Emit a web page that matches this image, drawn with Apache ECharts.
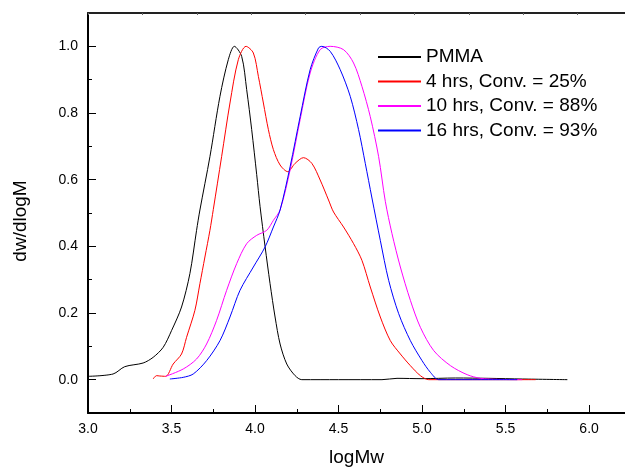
<!DOCTYPE html>
<html>
<head>
<meta charset="utf-8">
<title>GPC traces</title>
<script src="https://cdn.jsdelivr.net/npm/echarts@6/dist/echarts.min.js"></script>
<style>
  html, body { margin: 0; padding: 0; background: #ffffff; }
  #chart { width: 625px; height: 468px; }
</style>
</head>
<body>
<div id="chart"></div>
<script>
// Molecular weight distributions (dw/dlogM vs logMw)
const seriesNames = ['PMMA', '4 hrs, Conv. = 25%', '10 hrs, Conv. = 88%', '16 hrs, Conv. = 93%'];
const seriesColors = ['#000000', '#ff0000', '#ff00ff', '#0000ff'];

const pmmaLogM = [3.00, 3.15, 3.22, 3.33, 3.39, 3.45, 3.50, 3.56, 3.61, 3.65, 3.67, 3.73, 3.79, 3.84, 3.876,
  3.92, 3.95, 3.98, 4.01, 4.03, 4.06, 4.09, 4.12, 4.15, 4.19, 4.24, 4.28, 4.50, 4.76, 4.85, 5.00, 5.20, 5.40, 5.60, 5.87];
const pmmaW = [0.010, 0.017, 0.039, 0.050, 0.067, 0.097, 0.147, 0.218, 0.318, 0.448, 0.509, 0.669, 0.850, 0.960, 1.000,
  0.970, 0.870, 0.750, 0.615, 0.520, 0.400, 0.288, 0.188, 0.107, 0.047, 0.012, 0.000, 0.000, 0.000, 0.004, 0.003, 0.005, 0.004, 0.002, 0.000];

const hrs4LogM = [3.39, 3.41, 3.43, 3.465, 3.51, 3.56, 3.59, 3.64, 3.67, 3.70, 3.73, 3.75, 3.80, 3.85, 3.90, 3.946,
  3.99, 4.02, 4.05, 4.08, 4.11, 4.15, 4.196, 4.24, 4.29, 4.34, 4.39, 4.44, 4.47, 4.53, 4.59, 4.64, 4.69, 4.75,
  4.81, 4.87, 4.93, 4.99, 5.04, 5.30, 5.68];
const hrs4W = [0.002, 0.012, 0.011, 0.010, 0.047, 0.077, 0.127, 0.208, 0.288, 0.368, 0.448, 0.510, 0.669, 0.830, 0.960, 1.000,
  0.980, 0.910, 0.830, 0.750, 0.690, 0.644, 0.624, 0.649, 0.666, 0.649, 0.599, 0.539, 0.503, 0.458, 0.408, 0.358, 0.278, 0.188,
  0.117, 0.077, 0.042, 0.012, 0.000, 0.000, 0.000];

const hrs10LogM = [3.465, 3.57, 3.65, 3.71, 3.77, 3.83, 3.89, 3.95, 4.01, 4.07, 4.11, 4.15, 4.21, 4.27, 4.33, 4.39, 4.45,
  4.53, 4.59, 4.64, 4.69, 4.74, 4.78, 4.82, 4.87, 4.93, 4.99, 5.07, 5.17, 5.27, 5.35, 5.45, 5.60];
const hrs10W = [0.010, 0.032, 0.062, 0.107, 0.178, 0.268, 0.348, 0.408, 0.433, 0.448, 0.478, 0.509, 0.629, 0.780, 0.920, 0.990, 1.000,
  0.990, 0.950, 0.880, 0.789, 0.669, 0.535, 0.438, 0.338, 0.238, 0.157, 0.087, 0.042, 0.015, 0.004, 0.001, 0.000];

const hrs16LogM = [3.49, 3.57, 3.63, 3.71, 3.79, 3.85, 3.91, 3.99, 4.06, 4.11, 4.15, 4.21, 4.27, 4.33, 4.38, 4.40, 4.45,
  4.51, 4.57, 4.62, 4.66, 4.70, 4.75, 4.80, 4.86, 4.93, 5.00, 5.05, 5.10, 5.30, 5.57];
const hrs16W = [0.002, 0.007, 0.017, 0.057, 0.117, 0.188, 0.268, 0.338, 0.398, 0.458, 0.509, 0.639, 0.789, 0.930, 0.995, 1.000, 0.985,
  0.930, 0.850, 0.750, 0.649, 0.545, 0.418, 0.298, 0.198, 0.117, 0.057, 0.022, 0.000, 0.000, 0.000];

const yTickValues = [0.0, 0.2, 0.4, 0.6, 0.8, 1.0];
const yMinorTickValues = [0.1, 0.3, 0.5, 0.7, 0.9];

const FONT = '"Liberation Sans", Arial, sans-serif';

function pairs(xs, ys) {
  return xs.map((x, i) => [x, ys[i]]);
}

const curves = [
  pairs(pmmaLogM, pmmaW),
  pairs(hrs4LogM, hrs4W),
  pairs(hrs10LogM, hrs10W),
  pairs(hrs16LogM, hrs16W)
];

const chart = echarts.init(document.getElementById('chart'), null, { renderer: 'canvas' });

const option = {
  animation: false,
  backgroundColor: '#ffffff',
  textStyle: { fontFamily: FONT },
  grid: { left: 88, right: 0, top: 13, bottom: 55, containLabel: false, outerBoundsMode: 'none' },
  legend: {
    orient: 'vertical',
    left: 378,
    top: 45,
    padding: 0,
    itemGap: 0.5,
    itemWidth: 43,
    itemHeight: 2,
    icon: 'rect',
    data: seriesNames,
    textStyle: { fontFamily: FONT, fontSize: 19, color: '#000000', lineHeight: 24 }
  },
  xAxis: [
    {
      type: 'value',
      min: 3.0,
      max: 6.215,
      interval: 0.5,
      name: 'logMw',
      nameLocation: 'middle',
      nameGap: 35,
      nameTextStyle: { fontFamily: FONT, fontSize: 19, color: '#000000' },
      axisLine: { show: true, onZero: false, lineStyle: { color: '#000000', width: 2 } },
      axisTick: { show: true, inside: true, length: 8, lineStyle: { color: '#000000', width: 1 } },
      minorTick: { show: true, splitNumber: 2, length: 4, lineStyle: { color: '#000000', width: 1 } },
      axisLabel: {
        fontFamily: FONT, fontSize: 14, color: '#000000', margin: 9,
        showMaxLabel: false,
        formatter: v => v.toFixed(1)
      },
      splitLine: { show: false }
    },
    {
      // top frame with its own fine tick spacing
      type: 'value',
      position: 'top',
      min: 0,
      max: 9.87,
      interval: 1,
      axisLine: { show: true, onZero: false, lineStyle: { color: '#222222', width: 2 } },
      axisTick: { show: true, inside: true, length: 2, lineStyle: { color: '#666666', width: 1 } },
      axisLabel: { show: false },
      splitLine: { show: false }
    }
  ],
  yAxis: [
    {
      type: 'value',
      min: -0.1,
      max: 1.1,
      name: 'dw/dlogM',
      nameLocation: 'middle',
      nameGap: 58,
      nameTextStyle: { fontFamily: FONT, fontSize: 19, color: '#000000', padding: [0, 16, 0, 0] },
      axisLine: { show: true, onZero: false, lineStyle: { color: '#000000', width: 2 } },
      axisTick: { show: true, inside: true, length: 8, customValues: yTickValues, lineStyle: { color: '#000000', width: 1 } },
      axisLabel: {
        fontFamily: FONT, fontSize: 14, color: '#000000', margin: 10,
        customValues: yTickValues,
        formatter: v => v.toFixed(1)
      },
      splitLine: { show: false }
    },
    {
      // minor ticks on the left frame
      type: 'value',
      position: 'left',
      min: -0.1,
      max: 1.1,
      axisLine: { show: false },
      axisTick: { show: true, inside: true, length: 4, customValues: yMinorTickValues, lineStyle: { color: '#000000', width: 1 } },
      axisLabel: { show: false },
      splitLine: { show: false }
    }
  ],
  series: curves.map((data, i) => ({
    name: seriesNames[i],
    type: 'line',
    xAxisIndex: 0,
    yAxisIndex: 0,
    data: data,
    showSymbol: false,
    symbol: 'none',
    smooth: 0.3,
    lineStyle: { color: seriesColors[i], width: 1 },
    itemStyle: { color: seriesColors[i] },
    emphasis: { disabled: true },
    z: 2 + i
  }))
};

chart.setOption(option);
</script>
</body>
</html>
